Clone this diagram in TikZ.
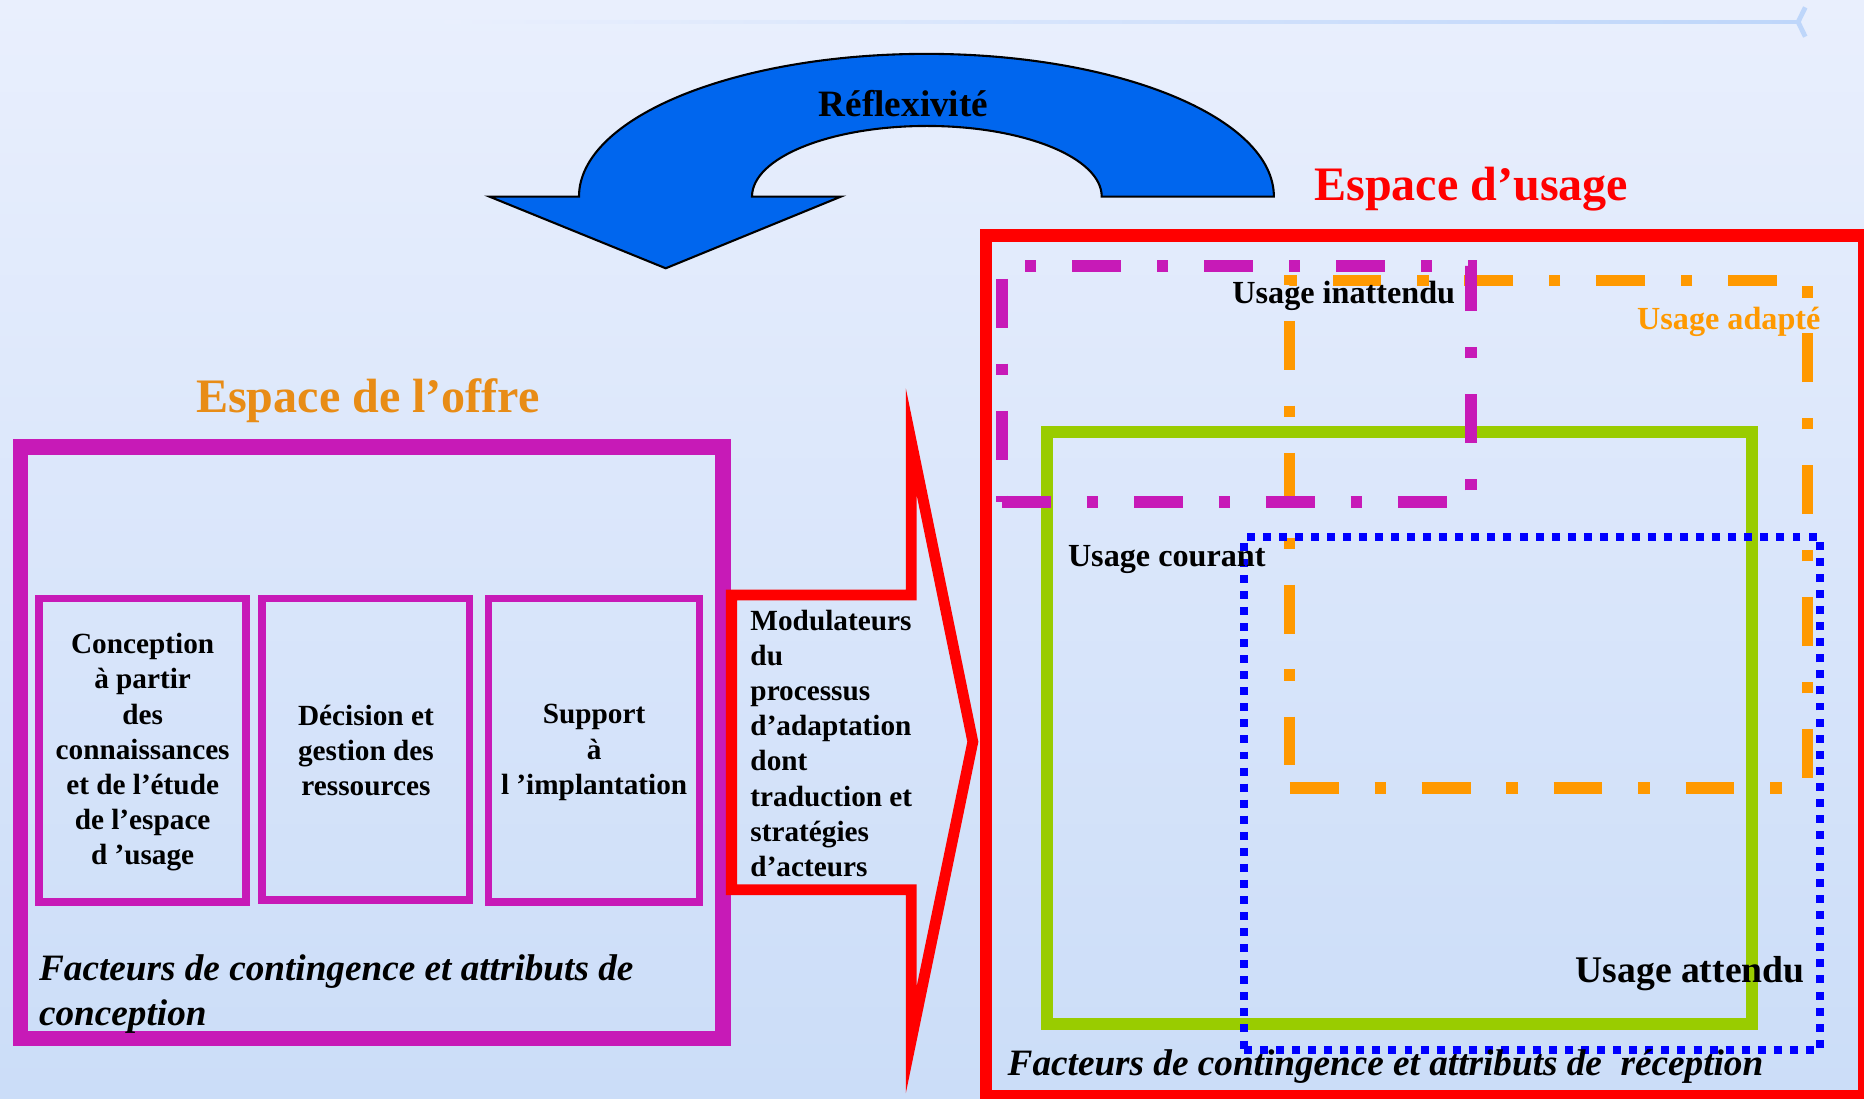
\documentclass[tikz,border=0pt]{standalone}
\usepackage{fontspec}
\setmainfont{Liberation Serif}
\definecolor{offremag}{RGB}{199,26,183}
\definecolor{offreorange}{RGB}{232,140,22}
\definecolor{adaptorange}{RGB}{255,153,0}
\definecolor{courgreen}{RGB}{153,204,0}
\definecolor{reflexblue}{RGB}{0,102,238}
\definecolor{bgtop}{RGB}{233,239,253}
\definecolor{bgbottom}{RGB}{203,221,248}
\definecolor{lineblue}{RGB}{190,214,250}
\begin{document}
\begin{tikzpicture}[x=0.01cm, y=0.01cm, line cap=butt,
  boxtxt/.style={inner sep=0pt, font=\bfseries\fontsize{7}{8.42}\selectfont},
  usagetxt/.style={inner sep=0pt, anchor=west, font=\bfseries\fontsize{7.7}{9}\selectfont},
  titletxt/.style={inner sep=0pt, anchor=base, font=\bfseries\fontsize{11.5}{13}\selectfont},
  facttxt/.style={inner sep=0pt, anchor=west, align=left, font=\bfseries\itshape\fontsize{8.9}{10.75}\selectfont},
  dashdot/.style={line width=1mm, dash pattern=on 4.1mm off 3.02mm on 0.95mm off 3.02mm}]
\useasboundingbox (0,0) rectangle (1568,-923.7);
\fill[top color=bgtop, bottom color=bgbottom] (0,0) rectangle (1568,-923.7);
\fill[left color=bgtop, right color=lineblue] (374,-17.4) rectangle (1512.6,-19.6);
\draw[lineblue, line width=0.4mm, line join=miter] (1518.6,-6.2) -- (1512.6,-18.5) -- (1518.6,-30.9);

\filldraw[fill=reflexblue, draw=black, line width=0.5pt]
  (411.7,-165.4) -- (560,-225.7) -- (707.4,-165.4) -- (632.6,-165.4)
  arc[start angle=180, end angle=0, x radius=1.47cm, y radius=0.594cm]
  -- (1071.6,-165.4)
  arc[start angle=0, end angle=180, x radius=2.921cm, y radius=1.2cm] -- cycle;
\node (reflex) at (760,-86.9) [inner sep=0pt, font=\bfseries\fontsize{8.9}{10}\selectfont]{Réflexivité};

\node (offre) at (309.5,-347) [titletxt, text=offreorange]{Espace de l’offre};
\draw[offremag, line width=1.3mm] (17.3,-376) rectangle (608.3,-873.7);
\foreach \a/\b/\c in {33/207/759, 220.6/395/757, 411/588.5/759}
{
    \draw[offremag, line width=0.65mm] (\a,-503.5) rectangle (\b,-\c);
}
\node (conc) at (120,-633) [boxtxt, align=center]{Conception\\à partir\\des\\connaissances\\et de l’étude\\de l’espace\\d ’usage};
\node (deci) at (307.8,-631.6) [boxtxt, align=center]{Décision et\\gestion des\\ressources};
\node (supp) at (499.8,-633) [boxtxt, align=center]{Support\\à\\l ’implantation};
\node (factO) at (32.2,-836) [facttxt]{Facteurs de contingence et attributs de\\conception};

\fill[red, even odd rule]
  (610.7,-496) -- (762,-496) -- (762,-326.7) -- (823,-624) -- (762,-919.5) -- (762,-753) -- (610.7,-753) -- cycle
  (620,-505) -- (771,-505) -- (771,-415.9) -- (813.7,-624) -- (771,-830.3) -- (771,-744) -- (620,-744) -- cycle;
\node (modul) at (630.6,-625.3) [boxtxt, anchor=west, align=left]{Modulateurs\\du\\processus\\d’adaptation\\dont\\traduction et\\stratégies\\d’acteurs};

\node (usage) at (1237.6,-169) [titletxt, text=red]{Espace d’usage};
\draw[red, line width=1.05mm] (829.5,-198.2) rectangle (1568.3,-922.3);
\draw[courgreen, line width=1mm] (881,-363.5) rectangle (1474,-861.5);
\draw[adaptorange, dashdot, line width=0.95mm] (1085,-663) -- (1520.3,-663) -- (1520.3,-236) -- (1085,-236) -- cycle;
\draw[blue, line width=0.65mm, dash pattern=on 0.67mm off 0.68mm] (1046.4,-883) -- (1531,-883) -- (1531,-452) -- (1046.4,-452) -- cycle;
\draw[offremag, dashdot] (843,-422) -- (1237.6,-422) -- (1237.6,-223.6) -- (843,-223.6) -- cycle;

\node (inatt) at (1036,-249) [usagetxt]{Usage inattendu};
\node (adapt) at (1376.5,-270.6) [usagetxt, text=adaptorange]{Usage adapté};
\node (cour) at (897.7,-471) [usagetxt]{Usage courant};
\node (att) at (1324.7,-818.8) [usagetxt, font=\bfseries\fontsize{9}{10}\selectfont]{Usage attendu};
\node (factU) at (847,-897) [facttxt]{Facteurs de contingence et attributs de\ \ réception};
\end{tikzpicture}
\end{document}
